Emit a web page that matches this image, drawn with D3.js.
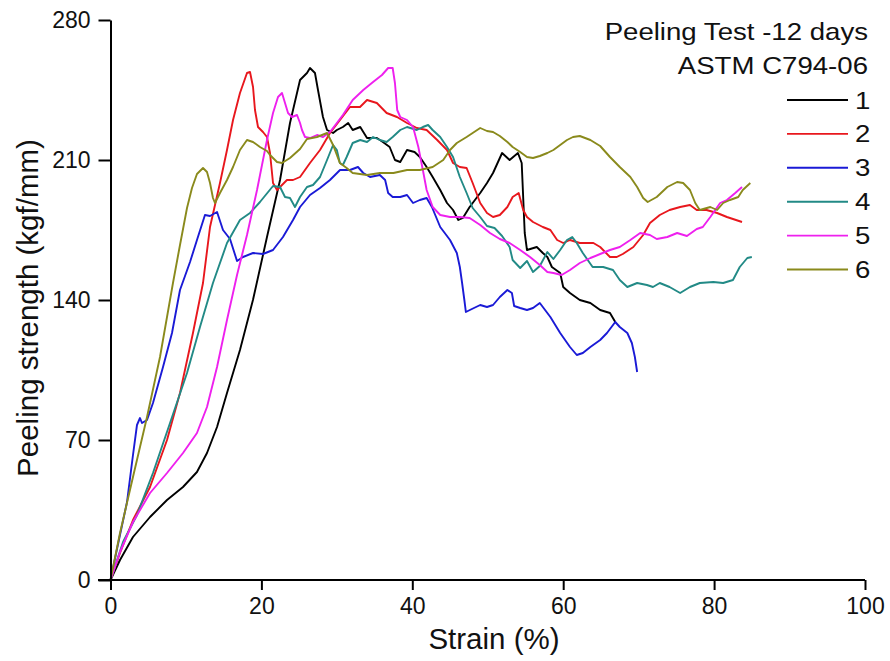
<!DOCTYPE html>
<html>
<head>
<meta charset="utf-8">
<script src="https://cdn.jsdelivr.net/npm/d3@7"></script>
<style>
  html, body { margin: 0; padding: 0; background: #fff; }
  svg { display: block; font-family: "Liberation Sans", Arial, sans-serif; }
</style>
</head>
<body>
<svg id="chart" width="890" height="661"></svg>
<script>
// Peeling strength vs strain, six specimens, each as [strain %, kgf/mm]
const specimen1 = [[0,0],[1.26,10],[2.98,21.5],[5.24,31.5],[7.49,40],[9.61,46.5],[11.46,54],[12.79,63.5],[14.12,76.5],[15.44,93.5],[17.16,115],[18.88,140],[20.74,171.5],[22.47,200],[23.79,228.5],[25.12,250],[26.04,253.5],[26.44,256],[27.1,253.5],[27.5,245],[28.16,231.5],[28.7,225],[29.5,223.5],[30.0,225],[30.8,226.5],[31.5,228.5],[32.1,225],[33.1,226.5],[34.0,221],[35.3,221],[36.1,219],[37.0,216.5],[37.7,210],[38.4,209],[39.3,215],[40.3,214],[41.0,211.5],[41.9,206.5],[42.7,201.5],[43.7,195],[44.6,188.5],[45.4,185],[46.1,180],[46.7,181],[47.6,186.5],[49.0,193.5],[49.9,198.5],[50.7,203.5],[51.9,213.5],[52.9,210],[54.0,213.5],[54.5,208.5],[54.9,173.5],[55.2,165],[56.5,166.5],[57.3,163.5],[57.9,161.5],[58.5,156.5],[59.6,153.5],[60.0,146.5],[60.9,143.5],[62.2,140],[63.6,138.5],[64.9,135],[66.2,133.5],[66.9,129]];

const specimen2 = [[0,0],[1.26,13.5],[2.98,30],[5.24,46.5],[7.49,70],[9.21,93.5],[10.93,123.5],[12.26,148.5],[13.19,176.5],[14.51,198.5],[15.44,215],[16.24,230],[17.16,243.5],[18.09,253.5],[18.49,254],[18.89,246.5],[19.15,235],[19.55,226.5],[20.21,224],[20.74,221.5],[21.14,213.5],[21.54,198.5],[22.07,195],[23.39,200],[24.19,200],[25.12,201.5],[26.44,208.5],[27.77,215],[29.09,223.5],[30.42,230],[31.74,236.5],[33.07,236.5],[34.0,240],[35.3,238.5],[36.6,233.5],[37.97,231.5],[39.3,228.5],[40.6,226],[41.9,225],[43.3,220],[44.6,215],[45.4,208.5],[46.3,206.5],[47.2,206],[48.0,198.5],[49.0,188.5],[49.9,183.5],[50.7,181.5],[51.6,182.5],[52.6,186.5],[53.3,191.5],[54.1,193.5],[54.7,185],[55.2,181.5],[56.0,179],[57.3,176.5],[58.3,175],[59.2,170],[60.0,168.5],[60.9,170],[62.2,168.5],[64.0,168.5],[64.9,166.5],[66.2,161.5],[67.1,161.5],[67.9,163],[69.3,166.5],[70.6,172.5],[71.5,178.5],[72.8,182.5],[74.1,185],[75.5,186.5],[76.8,187.5],[77.7,185],[79.0,185],[80.4,183.5],[81.7,181.5],[82.5,180.5],[83.7,179]];

const specimen3 = [[0,0],[0.86,15.5],[2.19,39],[2.98,62.5],[3.51,77.5],[3.91,81],[4.17,78.5],[4.84,80],[5.63,88.5],[6.96,106.5],[8.15,123.5],[9.21,145],[10.54,159],[11.46,170],[12.52,182.5],[13.19,182],[14.12,184],[14.91,175],[15.84,170.5],[16.77,159.5],[17.56,161.5],[18.89,163.5],[20.21,163],[21.54,165],[22.86,171.5],[24.19,180],[25.12,186.5],[26.44,192.5],[27.77,196],[29.09,200],[30.42,205],[31.74,205],[32.8,206.5],[33.5,203.5],[34.4,201.5],[35.7,202.5],[36.4,200],[36.8,193.5],[37.4,191.5],[38.4,191.5],[39.3,192.5],[40.1,188.5],[41.0,190],[41.9,191],[42.6,186.5],[43.7,176.5],[45.0,170],[45.9,163.5],[46.3,156.5],[46.6,148.5],[46.9,140],[47.1,134],[47.9,135.5],[49.0,137.5],[49.9,136.5],[50.7,137.5],[51.6,141.5],[52.6,145],[53.2,143.5],[53.5,137],[54.3,136],[55.2,135],[56.0,136],[56.9,138.5],[57.3,136.5],[58.3,131.5],[59.6,123.5],[60.9,116.5],[61.8,112.5],[62.6,113.5],[63.6,116.5],[64.9,120],[65.8,123.5],[66.9,129],[67.5,126.5],[68.5,123.5],[69.1,118.5],[69.5,111.5],[69.8,104]];

const specimen4 = [[0,0],[1.66,19],[3.51,32.5],[5.63,53.5],[7.89,78.5],[10.14,103.5],[11.86,126.5],[13.58,148.5],[15.44,168.5],[17.16,180],[18.49,183.5],[19.81,189],[21.54,197],[22.47,196.5],[23.13,191.5],[23.79,191],[24.45,186.5],[25.12,191.5],[26.04,196.5],[26.84,197.5],[27.77,201.5],[28.7,210],[29.5,217.5],[30.0,215],[30.4,208.5],[30.8,207.5],[31.3,211.5],[32.1,218.5],[33.1,220],[34.0,219],[34.8,221.5],[35.7,220],[36.6,219],[37.4,221.5],[38.4,225],[39.3,226.5],[40.6,225],[41.4,226.5],[42.1,227.5],[42.7,225],[43.7,221.5],[44.6,216.5],[45.4,211.5],[46.3,201.5],[47.2,193.5],[48.0,186],[49.0,181.5],[49.9,177],[50.9,176],[51.9,172],[52.9,166.5],[53.3,160],[54.3,156],[55.2,159.5],[56.0,154],[56.9,157],[57.9,164],[58.7,160.5],[59.6,165],[60.5,170],[61.2,171.5],[61.8,168.5],[62.6,163.5],[63.9,156.5],[65.3,156.5],[66.6,155],[67.5,150],[68.5,146.5],[69.8,148.5],[71.1,147.5],[71.9,146.5],[72.8,148.5],[74.1,146.5],[75.5,143.5],[76.8,146.5],[78.1,148.5],[79.9,149],[81.2,148.5],[82.5,150],[83.4,156.5],[84.4,161],[85.0,161.5]];

const specimen5 = [[0,0],[1.26,14],[2.98,29],[5.24,43.5],[7.49,53.5],[9.61,63.5],[11.46,73.5],[12.79,86.5],[14.12,106.5],[15.44,130],[16.77,152.5],[18.09,172.5],[19.42,195],[20.74,220],[21.54,233.5],[22.2,241.5],[22.73,243.5],[23.13,238.5],[23.53,233.5],[24.06,231.5],[24.72,232.5],[25.12,228.5],[25.38,225],[25.78,221.5],[26.44,221],[27.37,222.5],[28.17,221.5],[29.09,224],[30.0,228.5],[30.8,232.5],[32.1,240],[33.5,245],[34.8,249],[35.98,252.5],[36.8,256],[37.4,256],[37.7,248.5],[38.0,235],[38.4,231.5],[39.3,230],[40.1,226.5],[40.8,216.5],[41.4,205],[41.9,195],[42.7,186.5],[43.7,182.5],[45.0,181.5],[46.3,181.5],[47.6,181],[49.0,177.5],[50.3,173.5],[51.6,170.5],[52.9,168.5],[54.3,165],[55.6,161.5],[56.9,157.5],[57.9,154],[58.7,153.5],[59.8,152.5],[60.9,155],[62.2,158.5],[63.6,161],[64.9,163],[66.2,165],[67.5,166.5],[68.9,170],[70.2,173.5],[71.5,172.5],[72.4,170.5],[73.8,171.5],[75.1,173.5],[76.4,172],[77.7,175.5],[78.5,176.5],[79.5,181.5],[80.8,188.5],[81.7,190],[82.8,193.5],[83.7,196.5]];

const specimen6 = [[0,0],[1.26,23.5],[2.98,51.5],[4.84,81.5],[6.56,111.5],[8.28,148.5],[9.21,167.5],[10.14,186],[10.8,196],[11.46,203],[12.26,206],[12.79,204],[13.19,198.5],[13.58,191],[13.85,188.5],[14.51,193.5],[15.44,200],[16.24,206.5],[17.16,215],[18.09,220],[18.89,219],[19.81,216.5],[20.74,214.5],[21.14,212.5],[22.07,209],[22.73,208.5],[23.79,211],[25.12,215.5],[26.04,220.5],[27.37,221.5],[28.7,223.5],[29.5,217.5],[30.4,208.5],[31.3,206],[32.1,203.5],[34.0,202.5],[35.7,203.5],[37.5,203.5],[39.3,205],[41.0,205],[42.7,206.5],[44.1,210],[45.0,215],[45.9,218.5],[47.2,221.5],[48.0,223.5],[49.0,226],[49.9,224.5],[50.7,224],[51.6,222],[52.6,219],[53.3,216.5],[54.3,214],[55.2,211.5],[56.0,211],[56.9,212],[57.9,213.5],[58.7,215],[59.6,217.5],[60.5,220],[61.3,221.5],[62.2,222],[63.6,220],[64.9,217],[66.2,211.5],[67.5,206.5],[68.9,201.5],[69.8,196.5],[70.6,191],[71.2,189],[72.4,191.5],[73.8,196.5],[75.1,199],[75.9,198.5],[76.8,195],[77.5,188.5],[78.1,185],[79.5,186.5],[80.4,185],[81.2,188.5],[82.1,190],[83.2,191.5],[83.8,195],[84.8,198.5]];

const seriesNames = ["1", "2", "3", "4", "5", "6"];
const seriesData = [specimen1, specimen2, specimen3, specimen4, specimen5, specimen6];
const seriesColors = ["#000000", "#e8171d", "#1a1ad6", "#228a86", "#ee20ee", "#8a8a1c"];

const xTicks = [0, 20, 40, 60, 80, 100];
const yTicks = [0, 70, 140, 210, 280];
const titleLines = ["Peeling Test -12 days", "ASTM C794-06"];

const svg = d3.select("#chart");

const x = d3.scaleLinear().domain([0, 100]).range([110.5, 865]);
const y = d3.scaleLinear().domain([0, 280]).range([580, 20]);

// curves
const line = d3.line().x(d => x(d[0])).y(d => y(d[1]));
const plot = svg.append("g");
seriesData.forEach((s, i) => {
  plot.append("path")
    .attr("d", line(s))
    .attr("fill", "none")
    .attr("stroke", seriesColors[i])
    .attr("stroke-width", 1.9)
    .attr("stroke-linejoin", "round");
});

// axes
const xAxis = svg.append("g")
  .attr("transform", `translate(0,${y(0)})`)
  .call(d3.axisBottom(x).tickValues(xTicks).tickSize(10).tickPadding(8).tickSizeOuter(0));
const yAxis = svg.append("g")
  .attr("transform", `translate(${x(0)},0)`)
  .call(d3.axisLeft(y).tickValues(yTicks).tickSize(12).tickPadding(8).tickSizeOuter(0));

[xAxis, yAxis].forEach(a => {
  a.select(".domain").attr("stroke", "#000").attr("stroke-width", 2);
  a.selectAll(".tick line").attr("stroke", "#000").attr("stroke-width", 2);
  a.selectAll(".tick text")
    .attr("fill", "#111")
    .style("font-size", "23px")
    .style("font-family", "'Liberation Sans', Arial, sans-serif");
});
// x baseline runs left to meet the zero tick of the y axis
xAxis.select(".domain").attr("d", `M98,0H${x(100)}`);

// axis titles
svg.append("text")
  .attr("x", 494).attr("y", 649)
  .attr("text-anchor", "middle")
  .style("font-size", "29.5px")
  .attr("fill", "#111")
  .text("Strain (%)");

svg.append("text")
  .attr("transform", "translate(38,308) rotate(-90)")
  .attr("text-anchor", "middle")
  .style("font-size", "29.5px")
  .attr("fill", "#111")
  .text("Peeling strength (kgf/mm)");

// legend (text drawn slightly wide)
const legend = svg.append("g");
titleLines.forEach((t, i) => {
  legend.append("text")
    .attr("transform", `translate(868,${40 + i * 34}) scale(1.15,1)`)
    .attr("text-anchor", "end")
    .style("font-size", "24px")
    .attr("fill", "#111")
    .text(t);
});
seriesNames.forEach((n, i) => {
  const cy = 100 + i * 33.9;
  legend.append("line")
    .attr("x1", 787).attr("x2", 848)
    .attr("y1", cy).attr("y2", cy)
    .attr("stroke", seriesColors[i])
    .attr("stroke-width", 1.9);
  legend.append("text")
    .attr("transform", `translate(855,${cy + 8.5}) scale(1.15,1)`)
    .style("font-size", "24px")
    .attr("fill", "#111")
    .text(n);
});
</script>
</body>
</html>
